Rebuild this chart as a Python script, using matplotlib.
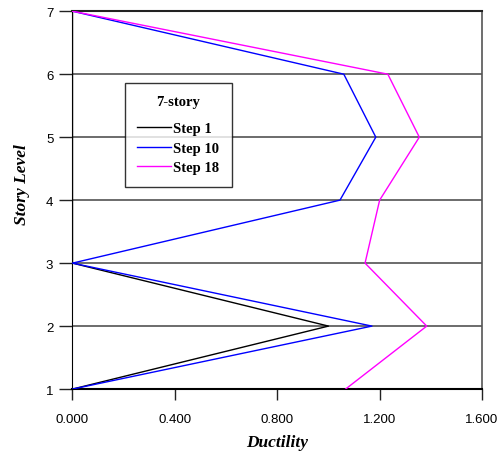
import matplotlib.pyplot as plt
import numpy as np

levels = [1, 2, 3, 4, 5, 6, 7]
step1 = [0.0, 1.0, 0.0, 0.0, 0.0, 0.0, 0.0]
step10 = [0.0, 1.17, 0.0, 1.045, 1.185, 1.06, 0.0]
step18 = [1.067, 1.384, 1.143, 1.20, 1.355, 1.232, 0.0]

xticks = [0.0, 0.4, 0.8, 1.2, 1.6]
xticklabels = ['0.000', '0.400', '0.800', '1.200', '1.600']

fig = plt.figure(figsize=(5.02, 4.52), dpi=100)
ax = fig.add_axes([0.1444, 0.137, 0.8158, 0.836])

# horizontal grid lines at every story
for lv in levels:
    ax.axhline(lv, color='#444444', lw=1.1, zorder=1)

ax.plot(step1, levels, color='black', lw=1, label='Step 1', zorder=3)
ax.plot(step10, levels, color='#0000ff', lw=1, label='Step 10', zorder=3)
ax.plot(step18, levels, color='#ff00ff', lw=1, label='Step 18', zorder=3)

ax.set_xlim(0, 1.6)
ax.set_ylim(1, 7)
ax.set_xticks(xticks)
ax.set_xticklabels(xticklabels, family='Liberation Sans', fontsize=9.5)
ax.set_yticks(levels)
ax.set_yticklabels([str(l) for l in levels], family='Liberation Sans', fontsize=9.5)
ax.tick_params(axis='x', direction='out', length=8, width=1, color='#222222', pad=9)
ax.tick_params(axis='y', direction='out', length=9.5, width=1, color='#222222', pad=4.3)

ax.spines['left'].set_color('black')
ax.spines['bottom'].set_color('black')
ax.spines['bottom'].set_linewidth(1.5)
ax.spines['top'].set_color('#222222')
ax.spines['top'].set_linewidth(1.5)
ax.spines['right'].set_color('#555555')
ax.spines['right'].set_linewidth(1.2)

ax.set_xlabel('Ductility', family='Liberation Serif', style='italic',
              weight='bold', fontsize=12.5, labelpad=7)
ax.set_ylabel('Story Level', family='Liberation Serif', style='italic',
              weight='bold', fontsize=12.5)
ax.yaxis.set_label_coords(-0.104, 0.545)

leg = ax.legend(loc='upper left', bbox_to_anchor=(125 / 502, 1 - 84 / 452),
                bbox_transform=fig.transFigure, title='7-story',
                prop={'family': 'Liberation Serif', 'weight': 'bold', 'size': 10.5},
                title_fontproperties={'family': 'Liberation Serif', 'weight': 'bold', 'size': 10.5},
                fancybox=False, frameon=True, handlelength=2.3, handletextpad=0.15,
                borderpad=0.85, labelspacing=0.43, borderaxespad=0)
leg.get_frame().set_edgecolor('black')
leg.get_frame().set_linewidth(1)
leg._legend_box.sep = 10
leg.set_zorder(5)

fig.savefig('out.png', dpi=100)
